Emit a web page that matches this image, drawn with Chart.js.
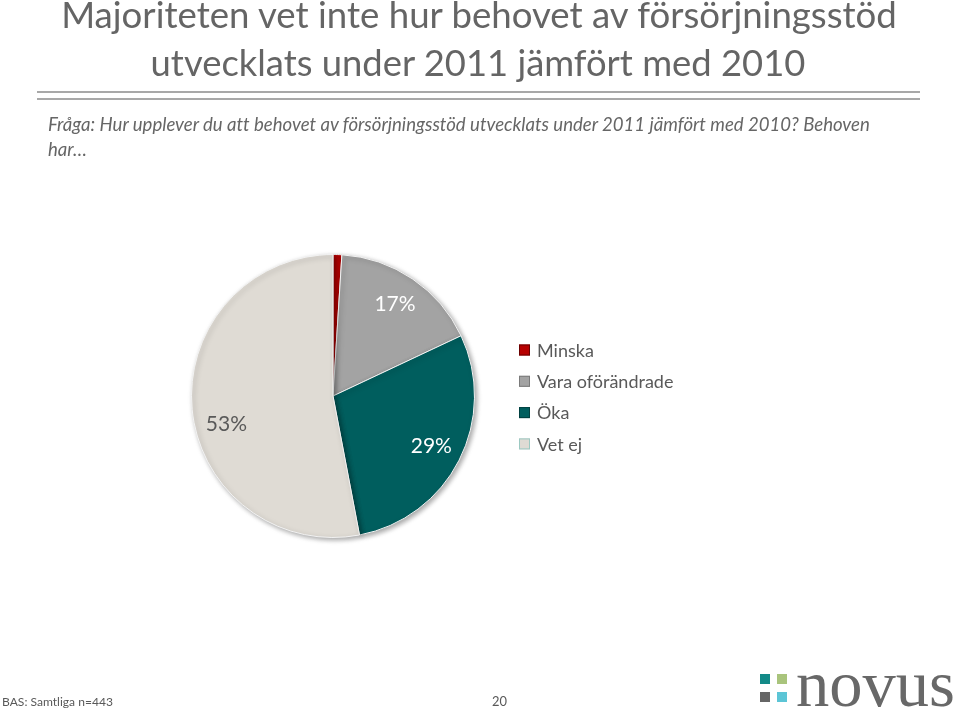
<!DOCTYPE html>
<html lang="sv">
<head>
<meta charset="utf-8">
<title>Försörjningsstöd 2011</title>
<script src="https://cdn.jsdelivr.net/npm/chart.js@4.4.1/dist/chart.umd.min.js"></script>
<style>
  html, body { margin: 0; padding: 0; background: #fff; }
  body { width: 960px; height: 711px; position: relative; overflow: hidden;
         font-family: Lato, "Open Sans", sans-serif; color: #595959;
         font-variant-ligatures: none; }
  canvas { position: absolute; left: 0; top: 0; }
  .txt { position: absolute; white-space: nowrap; line-height: 1.2; }
  .title { font-weight: 400; color: #656565; }
  .question { font-style: italic; color: #666666; }
  .rule { position: absolute; left: 37px; width: 883px; height: 2px; background: #a8a8a8; }
  .sq { position: absolute; width: 10px; height: 10px; }
  #novus { font-family: "Liberation Serif", "DejaVu Serif", serif; color: #686868; }
</style>
</head>
<body>
<canvas id="pie" width="960" height="711"></canvas>

<div class="txt title" id="t1">Majoriteten vet inte hur behovet av försörjningsstöd</div>
<div class="txt title" id="t2">utvecklats under 2011 jämfört med 2010</div>
<div class="rule" style="top:91px"></div>
<div class="rule" style="top:98px"></div>
<div class="txt question" id="q1">Fråga: Hur upplever du att behovet av försörjningsstöd utvecklats under 2011 jämfört med 2010? Behoven</div>
<div class="txt question" id="q2">har…</div>

<div class="txt" id="base">BAS: Samtliga n=443</div>
<div class="txt" id="page">20</div>

<div class="sq" style="left:760px;top:674px;background:#138a88"></div>
<div class="sq" style="left:777px;top:674px;background:#a9c47c"></div>
<div class="sq" style="left:760px;top:692px;background:#666666"></div>
<div class="sq" style="left:777px;top:692px;background:#5cc5d6"></div>
<div class="txt" id="novus">novus</div>

<script>
// answer categories and shares (%)
const categories = ["Minska", "Vara oförändrade", "Öka", "Vet ej"];
const shares = [1, 17, 29, 53];

const sliceColors = ["#b70000", "#a3a3a3", "#005e5e", "#dfdbd4"];
const legendEdges = ["#6a0000", "#7a7a7a", "#004040", "#9cc9c2"];
const labelColors = ["#ffffff", "#ffffff", "#ffffff", "#595959"];

// place a text line by its left (or centre) and baseline, sized to a target width
function placeText(id, x, baseline, width, size, centered) {
  const el = document.getElementById(id);
  el.style.fontSize = size + "px";
  if (width) {
    size = size * width / el.getBoundingClientRect().width;
    el.style.fontSize = size + "px";
  }
  const w = el.getBoundingClientRect().width;
  el.style.left = (centered ? x - w / 2 : x) + "px";
  el.style.top = (baseline - (el.dataset.asc || 0.987) * size) + "px";
}

placeText("t1", 479, 29, 836, 34, true);
placeText("t2", 478, 77, 655, 34, true);
placeText("q1", 48, 131, 822, 17);
placeText("q2", 48, 156, 0, parseFloat(document.getElementById("q1").style.fontSize));
placeText("base", 2, 707, 111, 13);
placeText("page", 492, 707, 15, 13);
document.getElementById("novus").dataset.asc = 0.891;
placeText("novus", 796, 703, 159, 65);

const sliceLabels = {
  id: "sliceLabels",
  afterDatasetsDraw(chart, args, opts) {
    const { ctx } = chart;
    const meta = chart.getDatasetMeta(0);
    meta.data.forEach((arc, i) => {
      const value = chart.data.datasets[0].data[i];
      if (value < opts.minValue) return;
      const p = arc.getProps(["x", "y", "startAngle", "endAngle", "outerRadius"], true);
      const t = opts.anglePos[i] ?? 0.5;
      const a = p.startAngle + (p.endAngle - p.startAngle) * t;
      const r = p.outerRadius * opts.radiusPos;
      ctx.save();
      ctx.font = opts.font;
      ctx.fillStyle = opts.colors[i];
      ctx.textAlign = "center";
      ctx.textBaseline = "middle";
      ctx.fillText(value + "%", p.x + Math.cos(a) * r, p.y + Math.sin(a) * r);
      ctx.restore();
    });
  }
};

const sideLegend = {
  id: "sideLegend",
  afterDraw(chart, args, opts) {
    const { ctx } = chart;
    const ds = chart.data.datasets[0];
    chart.data.labels.forEach((label, i) => {
      const cy = opts.y + i * opts.rowGap;
      ctx.save();
      ctx.fillStyle = ds.backgroundColor[i];
      ctx.fillRect(opts.x, cy - opts.box / 2, opts.box, opts.box);
      ctx.strokeStyle = opts.edges[i];
      ctx.lineWidth = 1;
      ctx.strokeRect(opts.x + 0.5, cy - opts.box / 2 + 0.5, opts.box - 1, opts.box - 1);
      ctx.font = opts.font;
      ctx.fillStyle = opts.color;
      ctx.textBaseline = "middle";
      ctx.fillText(label, opts.x + opts.box + 7, cy + 1);
      ctx.restore();
    });
  }
};

const pieShadow = {
  id: "pieShadow",
  beforeDatasetsDraw(chart) {
    const { ctx } = chart;
    ctx.save();
    ctx.shadowColor = "rgba(0,0,0,0.35)";
    ctx.shadowBlur = 5;
    ctx.shadowOffsetX = 2;
    ctx.shadowOffsetY = 2;
  },
  afterDatasetsDraw(chart) {
    chart.ctx.restore();
  }
};

new Chart(document.getElementById("pie"), {
  type: "pie",
  data: {
    labels: categories,
    datasets: [{
      data: shares,
      backgroundColor: sliceColors,
      borderColor: "#f2f2f2",
      borderWidth: 1
    }]
  },
  options: {
    responsive: false,
    animation: false,
    events: [],
    layout: { padding: { left: 191, top: 254, right: 485, bottom: 173 } },
    plugins: {
      legend: { display: false },
      tooltip: { enabled: false },
      sliceLabels: {
        minValue: 5,
        radiusPos: 0.78,
        anglePos: [0.5, 0.5, 0.5, 0.45],
        font: "21px Lato, 'Open Sans', sans-serif",
        colors: labelColors
      },
      sideLegend: {
        x: 519, y: 350, rowGap: 31.3, box: 11,
        edges: legendEdges,
        font: "18px Lato, 'Open Sans', sans-serif",
        color: "#595959"
      }
    }
  },
  plugins: [pieShadow, sliceLabels, sideLegend]
});
</script>
</body>
</html>
